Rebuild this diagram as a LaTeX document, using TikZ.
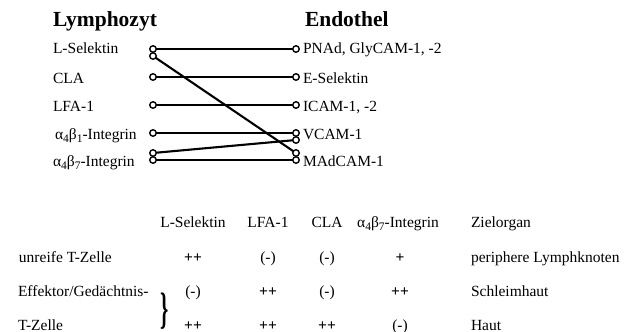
\documentclass[tikz,border=0pt]{standalone}
\usepackage{fontspec}
\setmainfont{Liberation Serif}
\newcommand\lowsub[1]{\raisebox{-3.5pt}{\fontsize{11.5}{11.5}\selectfont #1}}
\newcommand\intg[2]{α\lowsub{#1}β\lowsub{#2}}
\begin{document}
\begin{tikzpicture}[x=1pt,y=-1pt,
  every node/.style={inner sep=0pt,outer sep=0pt},
  txt/.style={font=\fontsize{15.5}{18}\selectfont},
  head/.style={font=\fontsize{21.5}{24}\selectfont\bfseries},
  pin/.style={circle,draw,line width=1.4pt,minimum size=6.5pt,fill=white},
  link/.style={line width=2.1pt}]
\useasboundingbox (0,0) rectangle (641,332);

% column headings
\node[head,anchor=base west] (hl) at (53,26.5) {Lymphozyt};
\node[head,anchor=base west] (hr) at (305,26.5) {Endothel};

% lymphocyte receptors
\node[txt,anchor=base west] (tl1) at (53,53) {L-Selektin};
\node[txt,anchor=base west] (tl2) at (53,83) {CLA};
\node[txt,anchor=base west] (tl3) at (53,111) {LFA-1};
\node[txt,anchor=base west] (tl4) at (55,139) {\intg{4}{1}-Integrin};
\node[txt,anchor=base west] (tl5) at (53,166) {\intg{4}{7}-Integrin};

% endothelial ligands
\node[txt,anchor=base west] (tr1) at (303,53) {PNAd, GlyCAM-1, -2};
\node[txt,anchor=base west] (tr2) at (303,83) {E-Selektin};
\node[txt,anchor=base west] (tr3) at (303,111) {ICAM-1, -2};
\node[txt,anchor=base west] (tr4) at (303,139) {VCAM-1};
\node[txt,anchor=base west] (tr5) at (303,166) {MAdCAM-1};

% binding sites
\node[pin] (l1a) at (153,49) {};
\node[pin] (l1b) at (153,56) {};
\node[pin] (l2)  at (153,77) {};
\node[pin] (l3)  at (153,105) {};
\node[pin] (l4)  at (153,133) {};
\node[pin] (l5a) at (153,153) {};
\node[pin] (l5b) at (153,160) {};
\node[pin] (r1)  at (296,49) {};
\node[pin] (r2)  at (296,77) {};
\node[pin] (r3)  at (296,105) {};
\node[pin] (r4a) at (296,133) {};
\node[pin] (r4b) at (296,140) {};
\node[pin] (r5a) at (296,153) {};
\node[pin] (r5b) at (296,160) {};

% receptor-ligand pairs
\draw[link] (l1a) -- (r1);
\draw[link] (l1b) -- (r5a);
\draw[link] (l2) -- (r2);
\draw[link] (l3) -- (r3);
\draw[link] (l4) -- (r4a);
\draw[link] (l5a) -- (r4b);
\draw[link] (l5b) -- (r5b);

% expression table
\node[txt,anchor=base] (c1) at (193,227) {L-Selektin};
\node[txt,anchor=base] (c2) at (268,227) {LFA-1};
\node[txt,anchor=base] (c3) at (327,227) {CLA};
\node[txt,anchor=base] (c4) at (398,227) {\intg{4}{7}-Integrin};
\node[txt,anchor=base west] (c5) at (471,227) {Zielorgan};

\node[txt,anchor=base west] (z1) at (19,262) {unreife T-Zelle};
\node[txt,anchor=base west] (z2) at (18,296) {Effektor/Gedächtnis-};
\node[txt,anchor=base west] (z3) at (18,330) {T-Zelle};
\node (br) at (165,311) {\scalebox{1.05}[2.2]{\fontsize{20}{20}\selectfont\bfseries\}}};

\node[txt,anchor=base] (v11) at (193,262) {\textbf{++}};
\node[txt,anchor=base] (v12) at (268,262) {(-)};
\node[txt,anchor=base] (v13) at (327,262) {(-)};
\node[txt,anchor=base] (v14) at (400,262) {\textbf{+}};
\node[txt,anchor=base west] (v15) at (471,262) {periphere Lymphknoten};

\node[txt,anchor=base] (v21) at (193,296) {(-)};
\node[txt,anchor=base] (v22) at (268,296) {\textbf{++}};
\node[txt,anchor=base] (v23) at (327,296) {(-)};
\node[txt,anchor=base] (v24) at (400,296) {\textbf{++}};
\node[txt,anchor=base west] (v25) at (471,296) {Schleimhaut};

\node[txt,anchor=base] (v31) at (193,330) {\textbf{++}};
\node[txt,anchor=base] (v32) at (268,330) {\textbf{++}};
\node[txt,anchor=base] (v33) at (327,330) {\textbf{++}};
\node[txt,anchor=base] (v34) at (400,330) {(-)};
\node[txt,anchor=base west] (v35) at (471,330) {Haut};
\end{tikzpicture}
\end{document}
